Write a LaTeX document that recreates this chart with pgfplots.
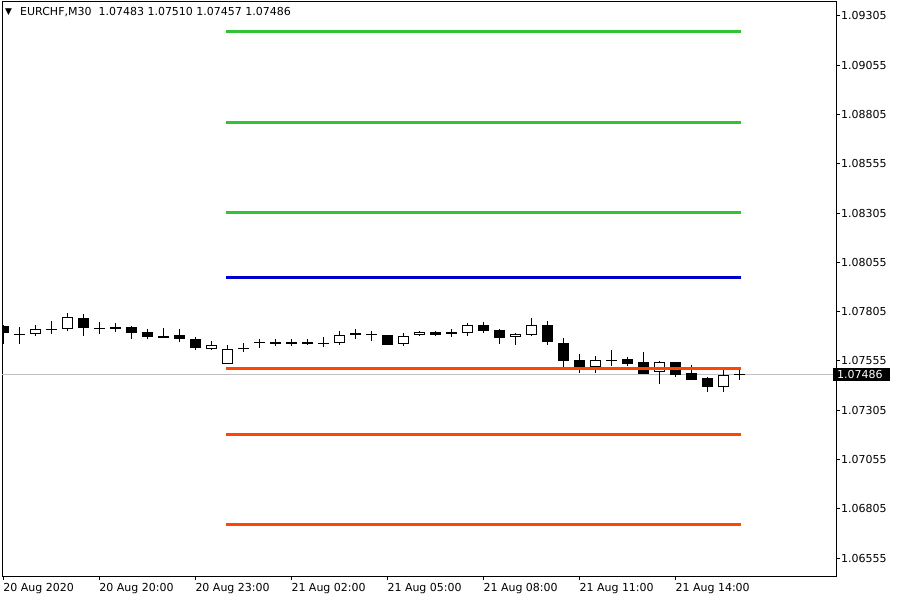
\documentclass[border=0pt]{standalone}
\usepackage{pgfplots}
\pgfplotsset{compat=1.18}
\usepackage{pgfplotstable}
\usepackage{fontspec}
\setmainfont{DejaVu Sans}
\definecolor{lvgreen}{RGB}{50,195,50}
\definecolor{lvblue}{RGB}{0,0,205}
\definecolor{lvred}{RGB}{255,69,0}
\definecolor{curgray}{RGB}{192,192,192}

% bearish candles: index open high low close
\pgfplotstableread{
i O H L C
0 1.07732 1.07735 1.07641 1.07697
5 1.07773 1.07793 1.07681 1.07722
8 1.07727 1.07732 1.07666 1.07697
9 1.07702 1.07717 1.07666 1.07676
11 1.07686 1.07717 1.07651 1.07666
12 1.07666 1.07676 1.07610 1.07620
16 1.07651 1.07666 1.07620 1.07646
20 1.07647 1.07676 1.07626 1.07641
22 1.07697 1.07717 1.07666 1.07688
24 1.07686 1.07687 1.07635 1.07636
27 1.07702 1.07707 1.07681 1.07688
30 1.07737 1.07752 1.07697 1.07707
31 1.07712 1.07715 1.07641 1.07671
34 1.07737 1.07757 1.07636 1.07651
35 1.07646 1.07671 1.07524 1.07554
36 1.07560 1.07590 1.07494 1.07524
39 1.07565 1.07575 1.07529 1.07539
40 1.07549 1.07600 1.07488 1.07489
42 1.07549 1.07550 1.07473 1.07483
43 1.07494 1.07534 1.07457 1.07458
44 1.07468 1.07473 1.07397 1.07423
}\bearish

% bullish candles
\pgfplotstableread{
i O H L C
2 1.07691 1.07737 1.07681 1.07717
4 1.07717 1.07798 1.07707 1.07778
10 1.07671 1.07722 1.07670 1.07681
13 1.07615 1.07656 1.07610 1.07636
14 1.07539 1.07636 1.07538 1.07615
21 1.07646 1.07707 1.07636 1.07686
25 1.07641 1.07697 1.07631 1.07681
26 1.07686 1.07707 1.07681 1.07702
29 1.07697 1.07747 1.07681 1.07737
32 1.07676 1.07697 1.07636 1.07691
33 1.07686 1.07773 1.07681 1.07737
37 1.07524 1.07580 1.07494 1.07560
41 1.07499 1.07554 1.07438 1.07549
45 1.07423 1.07509 1.07397 1.07483
}\bullish

% doji candles
\pgfplotstableread{
i O H L C
1 1.07693 1.07727 1.07641 1.07690
3 1.07717 1.07757 1.07691 1.07716
6 1.07722 1.07752 1.07691 1.07721
7 1.07722 1.07747 1.07702 1.07722
15 1.07620 1.07646 1.07600 1.07620
17 1.07646 1.07666 1.07631 1.07646
18 1.07646 1.07666 1.07631 1.07646
19 1.07646 1.07666 1.07636 1.07646
23 1.07688 1.07707 1.07656 1.07688
28 1.07697 1.07717 1.07676 1.07697
38 1.07560 1.07610 1.07529 1.07558
46 1.07483 1.07510 1.07457 1.07486
}\doji

\pgfplotsset{candle/.style={only marks, mark=*, mark size=0pt,
  mark options={draw=none, fill=none}}}

\begin{document}
\begin{tikzpicture}
\useasboundingbox (0,0) rectangle (900bp,600bp);
\begin{axis}[
  at={(2bp,24bp)}, anchor=south west,
  scale only axis, width=834bp, height=574bp,
  xmin=-0.08, xmax=52.04,
  ymin=1.06464, ymax=1.09376,
  axis line style={black, line width=1bp},
  tick align=outside, major tick length=4bp,
  tick style={black, line width=1bp},
  xtick pos=bottom, ytick pos=right, yticklabel pos=right,
  xtick={0,6,12,18,24,30,36,42},
  xticklabels={20 Aug 2020,20 Aug 20:00,20 Aug 23:00,21 Aug 02:00,21 Aug 05:00,21 Aug 08:00,21 Aug 11:00,21 Aug 14:00},
  ytick={1.06555,1.06805,1.07055,1.07305,1.07555,1.07805,1.08055,1.08305,1.08555,1.08805,1.09055,1.09305},
  yticklabels={1.06555,1.06805,1.07055,1.07305,1.07555,1.07805,1.08055,1.08305,1.08555,1.08805,1.09055,1.09305},
  tick label style={font=\fontsize{11bp}{13bp}\selectfont, text=black},
  xticklabel style={anchor=north west, inner xsep=0pt, inner ysep=0pt, yshift=-3bp},
  yticklabel style={anchor=west, inner xsep=4bp, inner ysep=2bp, xshift=-3bp},
  extra y ticks={1.07486},
  extra y tick labels={1.07486},
  extra y tick style={grid=major, major grid style={draw=curgray, line width=1bp},
     major tick length=0pt,
     yticklabel style={fill=black, text=white, minimum width=57bp, text width=49bp, align=left}},
]
% wicks
\addplot[candle, error bars/.cd, y dir=minus, y explicit, error mark=none,
  error bar style={line width=1bp, draw=black}]
  table[x=i, y=H, y error minus expr=\thisrow{H}-\thisrow{L}] {\bearish};
\addplot[candle, error bars/.cd, y dir=minus, y explicit, error mark=none,
  error bar style={line width=1bp, draw=black}]
  table[x=i, y=H, y error minus expr=\thisrow{H}-\thisrow{L}] {\bullish};
\addplot[candle, error bars/.cd, y dir=minus, y explicit, error mark=none,
  error bar style={line width=1bp, draw=black}]
  table[x=i, y=H, y error minus expr=\thisrow{H}-\thisrow{L}] {\doji};
% bearish bodies
\addplot[candle, error bars/.cd, y dir=minus, y explicit, error mark=none,
  error bar style={line width=11bp, draw=black}]
  table[x=i, y=O, y error minus expr=\thisrow{O}-\thisrow{C}] {\bearish};
% bullish bodies: outline then white fill
\addplot[candle, error bars/.cd, y dir=minus, y explicit, error mark=none,
  error bar style={line width=11bp, draw=black}]
  table[x=i, y=C, y error minus expr=\thisrow{C}-\thisrow{O}] {\bullish};
\addplot[candle, error bars/.cd, y dir=minus, y explicit, error mark=none,
  error bar style={line width=9bp, draw=white}]
  table[x=i, y expr=\thisrow{C}-0.00005, y error minus expr=\thisrow{C}-\thisrow{O}-0.0001] {\bullish};
% doji crossbars
\addplot[candle, error bars/.cd, x dir=both, x fixed=0.34, error mark=none,
  error bar style={line width=1.2bp, draw=black}]
  table[x=i, y=C] {\doji};
% pivot levels
\addplot[draw=lvgreen, line width=3bp] coordinates {(13.92,1.09224) (46.1,1.09224)};
\addplot[draw=lvgreen, line width=3bp] coordinates {(13.92,1.08767) (46.1,1.08767)};
\addplot[draw=lvgreen, line width=3bp] coordinates {(13.92,1.08310) (46.1,1.08310)};
\addplot[draw=lvblue, line width=3bp] coordinates {(13.92,1.07976) (46.1,1.07976)};
\addplot[draw=lvred, line width=3bp] coordinates {(13.92,1.07519) (46.1,1.07519)};
\addplot[draw=lvred, line width=3bp] coordinates {(13.92,1.07184) (46.1,1.07184)};
\addplot[draw=lvred, line width=3bp] coordinates {(13.92,1.06727) (46.1,1.06727)};
% header
\node[anchor=base west, inner sep=0pt, font=\fontsize{9bp}{10bp}\selectfont] at (rel axis cs:0,1) [xshift=3bp, yshift=-12.5bp] {▼};
\node[anchor=base west, inner sep=0pt, font=\fontsize{11bp}{13bp}\selectfont] at (rel axis cs:0,1) [xshift=18bp, yshift=-14bp] {EURCHF,M30\ \ 1.07483 1.07510 1.07457 1.07486};
\end{axis}
\end{tikzpicture}
\end{document}
